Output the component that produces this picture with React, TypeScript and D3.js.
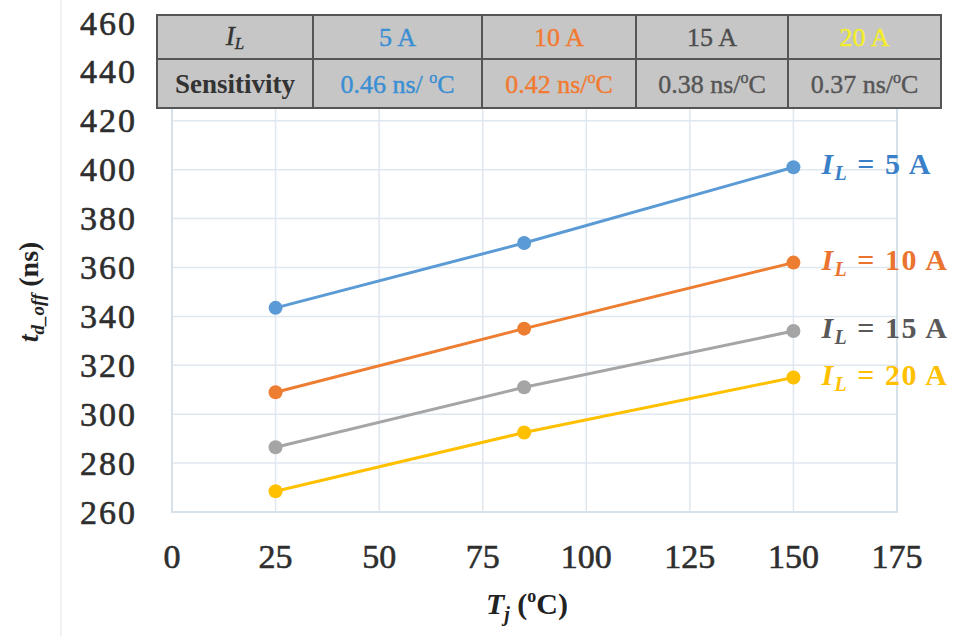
import React from "react";
import * as d3 from "d3";

const temps = [25, 85, 150];
const seriesNames = ["5 A", "10 A", "15 A", "20 A"];
const series5A = [343.5, 370, 401];
const series10A = [309, 335, 362];
const series15A = [286.5, 311, 334];
const series20A = [268.5, 292.5, 315];
const xTicks = [0, 25, 50, 75, 100, 125, 150, 175];
const yTicks = [260, 280, 300, 320, 340, 360, 380, 400, 420, 440, 460];
const sensitivityValues = ["0.46 ns/ ", "0.42 ns/", "0.38 ns/", "0.37 ns/"];

const lineColors = ["#5b9bd5", "#ed7d31", "#a5a5a5", "#ffc000"];
const labelColors = ["#3a80c8", "#ea7330", "#595959", "#ffc000"];
const headColors = ["#3a8fd4", "#f27a30", "#4d4d4d", "#f4ee2a"];
const sensColors = ["#3a8fd4", "#f27a30", "#555555", "#555555"];

const allSeries = [series5A, series10A, series15A, series20A];

const W = 955, H = 636;
const plot = { left: 172, right: 897, top: 23, bottom: 512 };
const serifStyle = { fontFamily: "Liberation Serif, Times New Roman, serif" };

export default function App() {
  const x = d3.scaleLinear().domain([0, 175]).range([plot.left, plot.right]);
  const y = d3.scaleLinear().domain([260, 460]).range([plot.bottom, plot.top]);
  const line = d3.line<number>().x((_, i) => x(temps[i])).y((d) => y(d));

  const colX = [157, 313, 482, 636, 788, 941];
  const rowY = [15, 59, 108];

  return (
    <div style={{ position: "fixed", left: 0, top: 0 }}>
      <svg width={W} height={H} style={{ display: "block", background: "#fff", ...serifStyle }}>
        <line x1={61} x2={61} y1={0} y2={H} stroke="#ececec" strokeWidth={1.5} />

        {yTicks.map((t) => (
          <line key={"gy" + t} x1={plot.left} x2={plot.right} y1={y(t)} y2={y(t)} stroke="#dfe7ef" strokeWidth={1.5} />
        ))}
        {xTicks.map((t) => (
          <line key={"gx" + t} x1={x(t)} x2={x(t)} y1={plot.top} y2={plot.bottom} stroke="#dfe7ef" strokeWidth={1.5} />
        ))}
        <rect x={plot.left} y={plot.top} width={plot.right - plot.left} height={plot.bottom - plot.top} fill="none" stroke="#d6e1ea" strokeWidth={2} />

        {allSeries.map((s, k) => (
          <g key={"s" + k}>
            <path d={line(s) || ""} fill="none" stroke={lineColors[k]} strokeWidth={3} />
            {s.map((v, i) => (
              <circle key={i} cx={x(temps[i])} cy={y(v)} r={7} fill={lineColors[k]} />
            ))}
            <text x={x(temps[temps.length - 1]) + 28} y={y(s[s.length - 1]) + 7} fill={labelColors[k]} style={serifStyle} fontWeight="bold" fontSize={30} letterSpacing={1.5}>
              <tspan fontStyle="italic">I</tspan>
              <tspan fontStyle="italic" fontSize={20} dy={6}>L</tspan>
              <tspan dy={-6}>{" = " + seriesNames[k]}</tspan>
            </text>
          </g>
        ))}

        {yTicks.map((t) => (
          <text key={"yl" + t} x={137} y={y(t)} textAnchor="end" dominantBaseline="central" style={serifStyle} fontSize={34} fill="#2e2e2e" stroke="#2e2e2e" strokeWidth={0.6} letterSpacing={2}>
            {t}
          </text>
        ))}
        {xTicks.map((t) => (
          <text key={"xl" + t} x={x(t)} y={556} textAnchor="middle" dominantBaseline="central" style={serifStyle} fontSize={34} fill="#2e2e2e" stroke="#2e2e2e" strokeWidth={0.6}>
            {t}
          </text>
        ))}

        <text transform="translate(38,292) rotate(-90)" textAnchor="middle" style={serifStyle} fontWeight="bold" fontSize={28} fill="#222">
          <tspan fontStyle="italic">t</tspan>
          <tspan fontStyle="italic" fontSize={19} dy={6}>d_off</tspan>
          <tspan dy={-6}> (ns)</tspan>
        </text>
        <text x={527} y={614} textAnchor="middle" style={serifStyle} fontWeight="bold" fontSize={30} fill="#222">
          <tspan fontStyle="italic">T</tspan>
          <tspan fontStyle="italic" fontSize={20} dy={7}>j</tspan>
          <tspan dy={-7}> (</tspan>
          <tspan fontSize={18} dy={-12}>o</tspan>
          <tspan dy={12}>C)</tspan>
        </text>

        <rect x={colX[0]} y={rowY[0]} width={colX[5] - colX[0]} height={rowY[2] - rowY[0]} fill="#c6c6c6" stroke="#555" strokeWidth={2} />
        <line x1={colX[0]} x2={colX[5]} y1={rowY[1]} y2={rowY[1]} stroke="#555" strokeWidth={2} />
        {colX.slice(1, 5).map((cx) => (
          <line key={"c" + cx} x1={cx} x2={cx} y1={rowY[0]} y2={rowY[2]} stroke="#555" strokeWidth={2} />
        ))}
        <text x={(colX[0] + colX[1]) / 2} y={(rowY[0] + rowY[1]) / 2 + 8} textAnchor="middle" style={serifStyle} fontSize={27} fill="#333" stroke="#333" strokeWidth={0.4}>
          <tspan fontStyle="italic">I</tspan>
          <tspan fontStyle="italic" fontSize={17} dy={4}>L</tspan>
        </text>
        <text x={(colX[0] + colX[1]) / 2} y={(rowY[1] + rowY[2]) / 2 + 9} textAnchor="middle" style={serifStyle} fontSize={27} fontWeight="bold" fill="#333">
          Sensitivity
        </text>
        {seriesNames.map((n, k) => (
          <text key={"h" + k} x={(colX[k + 1] + colX[k + 2]) / 2} y={(rowY[0] + rowY[1]) / 2 + 9} textAnchor="middle" style={serifStyle} fontSize={26} fill={headColors[k]} stroke={headColors[k]} strokeWidth={0.4}>
            {n}
          </text>
        ))}
        {sensitivityValues.map((v, k) => (
          <text key={"v" + k} x={(colX[k + 1] + colX[k + 2]) / 2} y={(rowY[1] + rowY[2]) / 2 + 9} textAnchor="middle" style={serifStyle} fontSize={26} fill={sensColors[k]} stroke={sensColors[k]} strokeWidth={0.4}>
            {v}
            <tspan fontSize={16} dy={-10}>o</tspan>
            <tspan dy={10}>C</tspan>
          </text>
        ))}
      </svg>
    </div>
  );
}
